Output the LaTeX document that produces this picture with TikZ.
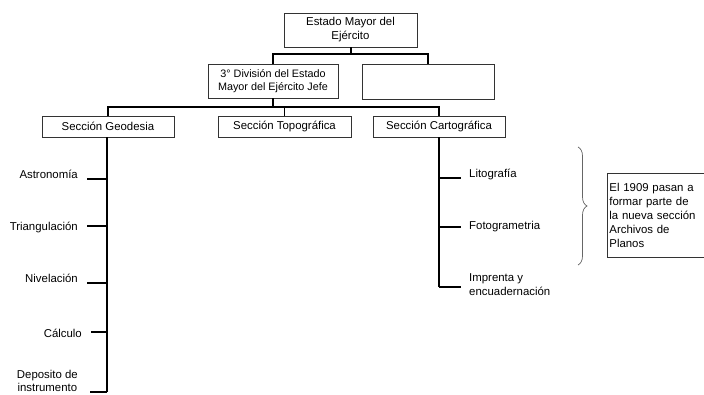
\documentclass[tikz,border=0pt]{standalone}
\usepackage{fontspec}
\setmainfont{Liberation Sans}
\usetikzlibrary{decorations.pathreplacing}
\begin{document}
\begin{tikzpicture}[x=1pt,y=-1pt,
  box/.style={draw=black!80,line width=0.8pt,inner sep=0pt,font=\fontsize{11.4}{14}\selectfont,align=center},
  conn/.style={line width=1.7pt,black},
  lbl/.style={inner sep=0pt,font=\fontsize{11.4}{14}\selectfont},
]
\useasboundingbox (0,0) rectangle (704,394);
% boxes
\node[box,minimum width=133pt,minimum height=34pt] (top) at (350.5,30) {Estado Mayor del\\Ejército};
\node[box,minimum width=130pt,minimum height=34pt,font=\fontsize{10.8}{13}\selectfont] (div) at (273,81) {3° División del Estado\\Mayor del Ejército Jefe};
\node[box,minimum width=132pt,minimum height=35pt] (emp) at (428,81.5) {};
\node[box,minimum width=132pt,minimum height=21pt] (geo) at (108,126.5) {Sección Geodesia};
\node[box,minimum width=133pt,minimum height=21pt] (topo) at (284.5,126.5) {Sección Topográfica};
\node[box,minimum width=132pt,minimum height=21pt] (carto) at (439,126.5) {Sección Cartográfica};
\node[box,minimum width=97pt,minimum height=84pt,align=left,anchor=north west,text width=92pt] (note) at (606.5,173) {El 1909 pasan a\\formar parte de\\la nueva sección\\Archivos de\\Planos};
% connectors top
\coordinate (j1) at (351,54);
\draw[conn] (top.south -| j1) -- (j1);
\draw[conn] (div.north) |- (j1) -| (emp.north);
\coordinate (j2) at (273,107);
\draw[conn] (div.south) -- (j2);
\draw[conn] (geo.north) |- (j2) -| (carto.north);
\draw[conn] (topo.north) -- (topo.north |- j2);
% geodesia branch
\coordinate (gb) at (107,392);
\draw[conn] (geo.south -| gb) -- (gb);
\node[lbl,anchor=east] (astro) at (78,174) {Astronomía};
\node[lbl,anchor=east] (tri) at (78,227) {Triangulación};
\node[lbl,anchor=east] (niv) at (78,278) {Nivelación};
\node[lbl,anchor=east] (calc) at (82,333) {Cálculo};
\node[lbl,anchor=east,align=center,font=\fontsize{11.4}{12.5}\selectfont] (dep) at (78,381) {Deposito de\\instrumento};
\coordinate (ga) at (107,179); \coordinate (gt) at (107,226); \coordinate (gn) at (107,283);
\coordinate (gc) at (107,332);
\draw[conn] (ga) -- ++(-20,0);
\draw[conn] (gt) -- ++(-20,0);
\draw[conn] (gn) -- ++(-20,0);
\draw[conn] (gc) -- ++(-16,0);
\draw[conn] (gb) -- ++(-17,0);
% cartografica branch
\coordinate (cb) at (439,287);
\draw[conn] (carto.south) -- (cb);
\coordinate (cl) at (439,178); \coordinate (cf) at (439,227);
\draw[conn] (cl) -- ++(22,0);
\draw[conn] (cf) -- ++(22,0);
\draw[conn] (cb) -- ++(22,0);
\node[lbl,anchor=west] (lito) at (469,174) {Litografía};
\node[lbl,anchor=west] (foto) at (469,227) {Fotogrametria};
\node[lbl,anchor=west,align=left] (imp) at (469,284.5) {Imprenta y\\encuadernación};
% brace
\coordinate (bt) at (578,147); \coordinate (bb) at (578,265);
\draw[black!60,line width=0.7pt,decorate,decoration={brace,amplitude=9pt}] (bt) -- (bb);
\end{tikzpicture}
\end{document}
